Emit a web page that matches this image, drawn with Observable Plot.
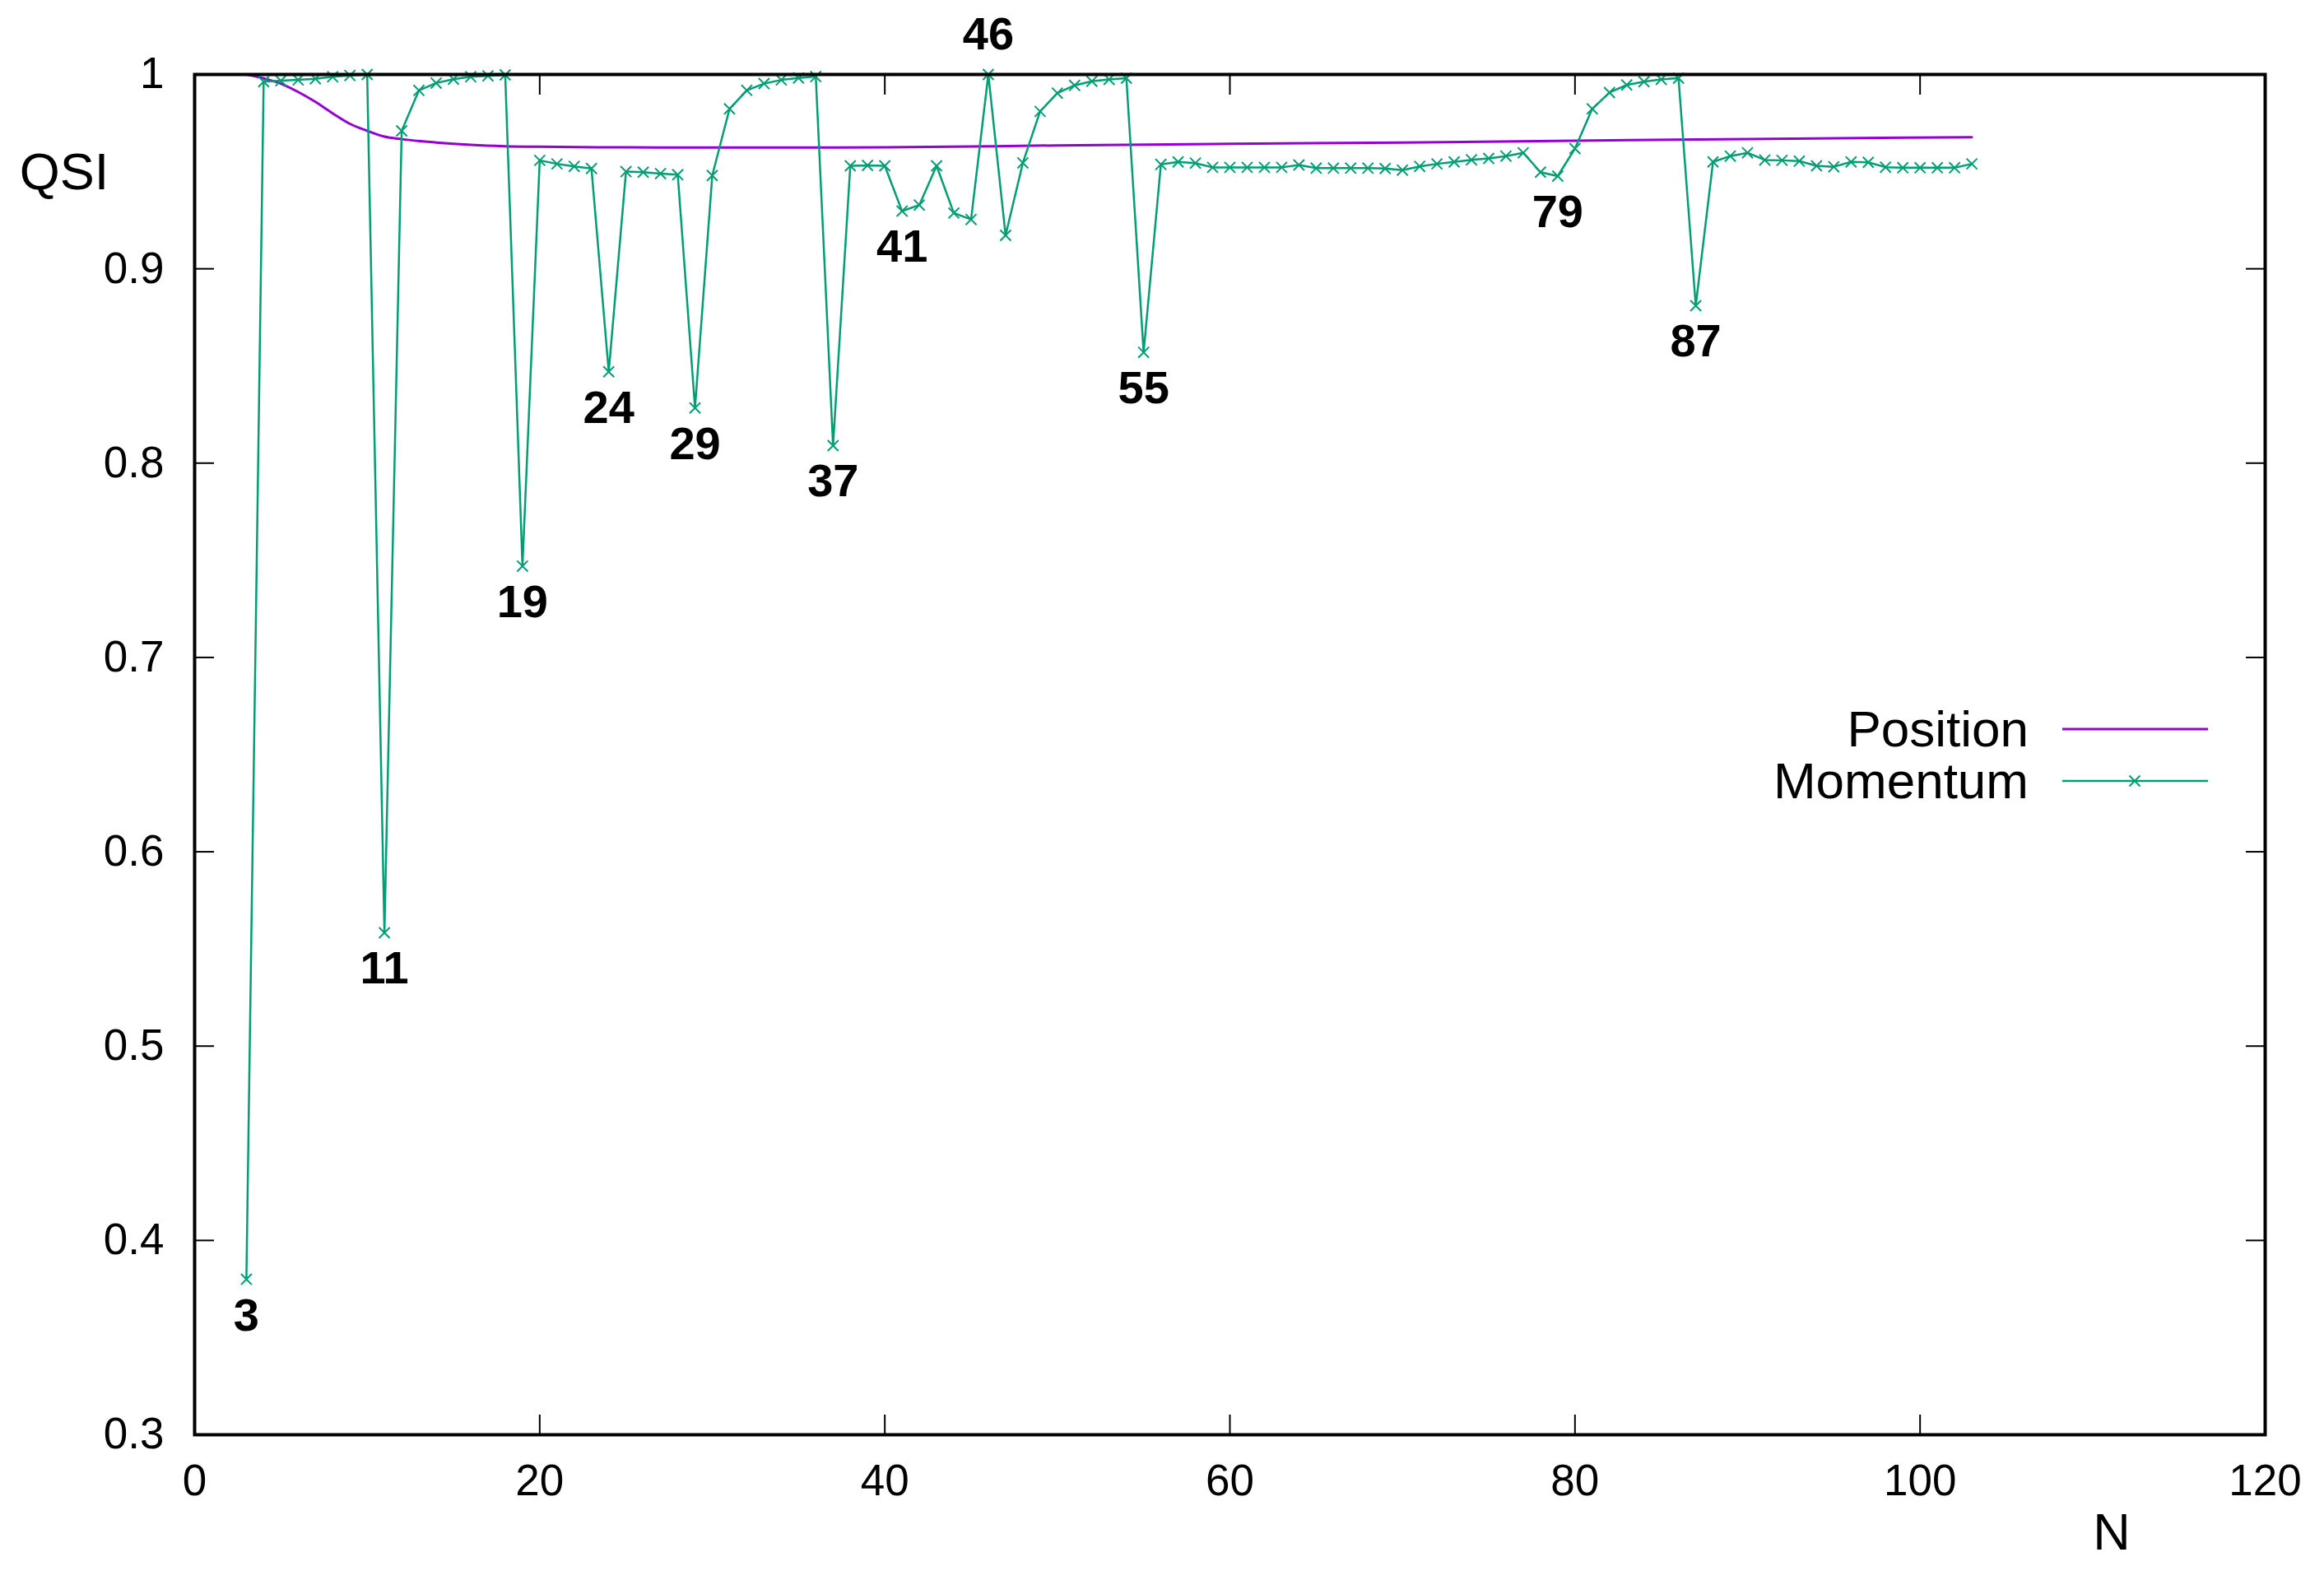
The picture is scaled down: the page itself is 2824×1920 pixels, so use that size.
<!DOCTYPE html>
<html>
<head>
<meta charset="utf-8">
<script src="https://cdn.jsdelivr.net/npm/d3@7"></script>
<script src="https://cdn.jsdelivr.net/npm/@observablehq/plot@0.6"></script>
<style>
  html, body { margin: 0; padding: 0; background: #ffffff; }
  #chart { width: 2824px; height: 1920px; }
</style>
</head>
<body>
<div id="chart"></div>
<script>
// ---------- data ----------
const momentumN = [
  3,4,5,6,7,8,9,10,11,12,13,14,15,16,17,18,19,20,21,22,23,24,25,26,27,28,29,30,
  31,32,33,34,35,36,37,38,39,40,41,42,43,44,45,46,47,48,49,50,51,52,53,54,55,56,
  57,58,59,60,61,62,63,64,65,66,67,68,69,70,71,72,73,74,75,76,77,78,79,80,81,82,
  83,84,85,86,87,88,89,90,91,92,93,94,95,96,97,98,99,100,101,102,103
];
const momentumQSI = [
  0.380,0.9963,0.9968,0.9972,0.9978,0.9988,0.9995,1.000,0.5583,0.9710,
  0.9918,0.9956,0.9976,0.9988,0.9993,0.9998,0.747,0.9558,0.9540,0.9527,
  0.9516,0.847,0.9500,0.9497,0.9490,0.9484,0.8284,0.9480,0.9823,0.9918,
  0.9953,0.9972,0.9982,0.9989,0.809,0.9530,0.9532,0.9530,0.9297,0.9328,
  0.9530,0.9287,0.9254,1.000,0.9172,0.9545,0.9810,0.9904,0.9944,0.9965,
  0.9975,0.9981,0.857,0.9537,0.9550,0.9544,0.9522,0.9522,0.9522,0.9522,
  0.9522,0.9534,0.9518,0.9518,0.9518,0.9518,0.9516,0.9508,0.9527,0.9540,
  0.9550,0.9561,0.9568,0.9580,0.9597,0.9497,0.9477,0.9619,0.9823,0.9907,
  0.9946,0.9963,0.9975,0.9981,0.881,0.9550,0.9580,0.9597,0.9560,0.9558,
  0.9554,0.9530,0.9525,0.9550,0.9548,0.9523,0.9520,0.9520,0.9520,0.9520,
  0.9540
];
const positionN   = [3, 4, 5, 6, 7, 8, 9, 10, 11, 12, 14, 16, 18, 20, 25, 30, 35, 40, 50, 60, 70, 80, 90, 103];
const positionQSI = [1.0, 0.998, 0.9953, 0.991, 0.9859, 0.980, 0.9746, 0.971, 0.968, 0.9667, 0.965, 0.9638,
                     0.9631, 0.9628, 0.9625, 0.9624, 0.9624, 0.9625, 0.9635, 0.9643, 0.965, 0.9659, 0.9668, 0.9677];

const dipN = [3, 11, 19, 24, 29, 37, 41, 46, 55, 79, 87];
const dipAbove = [46];

const xTicks = [0, 20, 40, 60, 80, 100, 120];
const yTicks = [0.3, 0.4, 0.5, 0.6, 0.7, 0.8, 0.9, 1];
const yTickLabels = ["0.3", "0.4", "0.5", "0.6", "0.7", "0.8", "0.9", "1"];
const seriesNames = ["Position", "Momentum"];
const seriesColors = ["#9400d3", "#009e73"];
const xLabel = "N";
const yLabel = "QSI";

// ---------- tables ----------
const mom = momentumN.map((n, i) => ({ n, q: momentumQSI[i] }));
const pos = positionN.map((n, i) => ({ n, q: positionQSI[i] }));
const dipsBelow = mom.filter(d => dipN.includes(d.n) && !dipAbove.includes(d.n));
const dipsAbove = mom.filter(d => dipAbove.includes(d.n));

const FONT = "'Liberation Sans', Arial, Helvetica, sans-serif";

const svg = Plot.plot({
  width: 2824,
  height: 1920,
  marginLeft: 236,
  marginRight: 72,
  marginTop: 90,
  marginBottom: 177,
  style: { fontFamily: FONT, fontSize: "53px", background: "white", color: "black", overflow: "visible" },
  x: { domain: [0, 120] },
  y: { domain: [0.3, 1] },
  marks: [
    Plot.axisX(xTicks, { anchor: "bottom", tickSize: -24, tickPadding: 60, strokeWidth: 2, label: null, tickFormat: d => String(d) }),
    Plot.axisX(xTicks, { anchor: "top", tickSize: -24, fill: "none", strokeWidth: 2, label: null }),
    Plot.axisY(yTicks, { anchor: "left", tickSize: -24, tickPadding: 61, strokeWidth: 2, label: null,
                         tickFormat: d => yTickLabels[yTicks.indexOf(d)] }),
    Plot.axisY(yTicks, { anchor: "right", tickSize: -24, fill: "none", strokeWidth: 2, label: null }),
    Plot.line(pos, { x: "n", y: "q", stroke: seriesColors[0], strokeWidth: 3, curve: "monotone-x" }),
    Plot.line(mom, { x: "n", y: "q", stroke: seriesColors[1], strokeWidth: 2.5 }),
    Plot.dot(mom, { x: "n", y: "q", symbol: "times", r: 6, stroke: seriesColors[1], strokeWidth: 2 }),
    Plot.text(dipsBelow, { x: "n", y: "q", text: d => String(d.n), dy: 44, lineAnchor: "middle",
                           fontWeight: "bold", fontSize: 56, fill: "black" }),
    Plot.text(dipsAbove, { x: "n", y: "q", text: d => String(d.n), dy: -48, lineAnchor: "middle",
                           fontWeight: "bold", fontSize: 56, fill: "black" }),
    Plot.frame({ stroke: "black", strokeWidth: 4 })
  ]
});

document.getElementById("chart").appendChild(svg);

// ---------- axis titles & legend (decorations) ----------
const s = d3.select(svg);
const deco = s.append("g").attr("font-family", FONT).attr("fill", "black");

deco.append("text").attr("x", 78).attr("y", 230).attr("text-anchor", "middle")
  .attr("font-size", 63).text(yLabel);
deco.append("text").attr("x", 2566).attr("y", 1883).attr("text-anchor", "middle")
  .attr("font-size", 63).text(xLabel);

const legendRows = [
  { name: seriesNames[0], color: seriesColors[0], width: 3, marker: false, ty: 907, ly: 886 },
  { name: seriesNames[1], color: seriesColors[1], width: 2.5, marker: true, ty: 970, ly: 949 }
];
legendRows.forEach(r => {
  deco.append("text").attr("x", 2465).attr("y", r.ty).attr("text-anchor", "end")
    .attr("font-size", 62).text(r.name);
  deco.append("line").attr("x1", 2506).attr("x2", 2683).attr("y1", r.ly).attr("y2", r.ly)
    .attr("stroke", r.color).attr("stroke-width", r.width);
  if (r.marker) {
    deco.append("path")
      .attr("d", d3.symbol(d3.symbolTimes, Math.PI * 36)())
      .attr("transform", `translate(2594,${r.ly})`)
      .attr("fill", "none").attr("stroke", r.color).attr("stroke-width", 2);
  }
});
</script>
</body>
</html>
